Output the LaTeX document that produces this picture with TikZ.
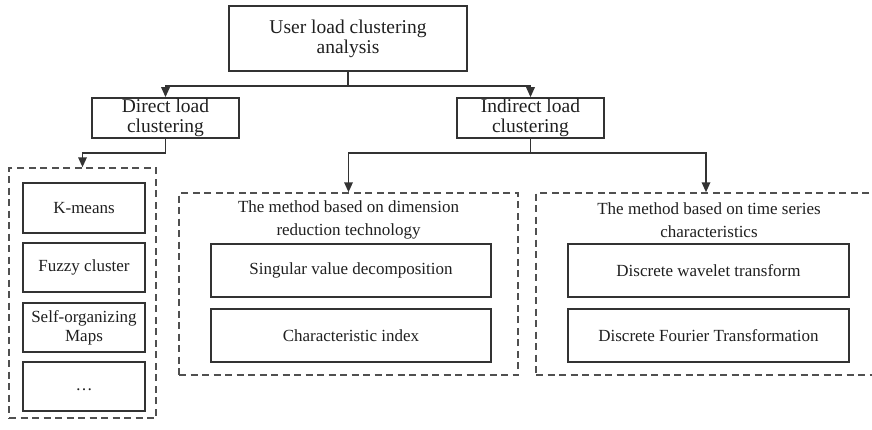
\documentclass[tikz,border=0pt]{standalone}
\usepackage{fontspec}
\setmainfont{Liberation Serif}
\usetikzlibrary{arrows.meta}
\definecolor{ink}{HTML}{1F1F1F}
\definecolor{edge}{HTML}{333333}
\definecolor{dashgray}{HTML}{505050}
\begin{document}
\begin{tikzpicture}[x=1pt,y=-1pt,
  solidbox/.style={draw=edge,line width=1.7pt,text=ink,align=center,inner sep=0pt},
  head/.style={solidbox,font=\fontsize{19.5}{20}\selectfont},
  item/.style={solidbox,font=\fontsize{17}{19}\selectfont},
  group/.style={draw=dashgray,line width=1.5pt,dash pattern=on 7pt off 4.5pt,inner sep=0pt},
  title/.style={text=ink,align=center,inner sep=0pt,font=\fontsize{17}{23}\selectfont},
  link/.style={draw=edge,line width=1.7pt},
  arr/.style={link,-{Triangle[length=10pt,width=8.5pt]}}]
\useasboundingbox (0,0) rectangle (872,429);

% root and the two branches
\node[head,minimum width=238pt,minimum height=65pt] (root) at (348,38.5) {User load clustering\\analysis};
\node[head,minimum width=147pt,minimum height=40pt] (direct) at (165.5,118) {Direct load\\clustering};
\node[head,minimum width=147pt,minimum height=40pt] (indirect) at (530.5,118) {Indirect load\\clustering};

% direct methods
\node[group,minimum width=147pt,minimum height=250pt] (dgroup) at (82.5,293) {};
\node[item,minimum width=122pt,minimum height=50pt] (kmeans) at (84,208) {K-means};
\node[item,minimum width=122pt,minimum height=49pt] (fuzzy) at (84,267.5) {Fuzzy cluster};
\node[item,minimum width=122pt,minimum height=49pt] (som) at (84,327.5) {Self-organizing\\Maps};
\node[item,minimum width=122pt,minimum height=49pt] (more) at (84,386.5) {\strut\dots};

% dimension reduction group
\node[group,minimum width=339pt,minimum height=182pt] (dimgroup) at (348.5,284) {};
\node[title] (dimtitle) at (348.5,220) {The method based on dimension\\reduction technology};
\node[item,minimum width=280pt,minimum height=53pt] (svd) at (351,270.5) {Singular value decomposition};
\node[item,minimum width=280pt,minimum height=53pt] (cindex) at (351,335.5) {Characteristic index};

% time series group
\node[group,minimum width=340pt,minimum height=182pt] (tsgroup) at (706,284) {};
\node[title] (tstitle) at (709,220) {The method based on time series\\characteristics};
\node[item,minimum width=281pt,minimum height=53pt] (dwt) at (708.5,270.5) {Discrete wavelet transform};
\node[item,minimum width=281pt,minimum height=53pt] (dft) at (708.5,335.5) {Discrete Fourier Transformation};

% connectors
\coordinate (j1) at (348,86);
\coordinate (j2) at (165.5,153);
\coordinate (j3) at (530.5,153);
\draw[link] (root.south) -- (j1);
\draw[arr] (j1) -| (direct.north);
\draw[arr] (j1) -| (indirect.north);
\draw[link] (direct.south) -- (j2);
\draw[arr] (j2) -| (dgroup.north);
\draw[link] (indirect.south) -- (j3);
\draw[arr] (j3) -| (dimgroup.north);
\draw[arr] (j3) -| (tsgroup.north);
\end{tikzpicture}
\end{document}
